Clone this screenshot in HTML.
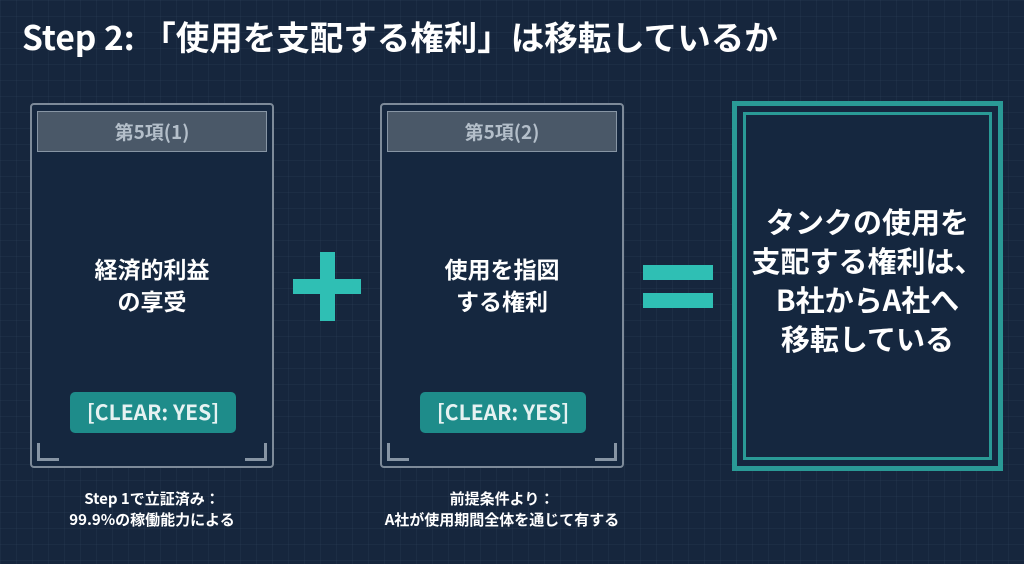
<!DOCTYPE html>
<html><head><meta charset="utf-8"><style>
*{margin:0;padding:0;box-sizing:border-box}
body{width:1024px;height:564px;overflow:hidden;background:#16263d;font-family:"Noto Sans CJK JP","Liberation Sans",sans-serif;color:#fff;position:relative;
background-image:linear-gradient(rgba(120,150,180,0.06) 1px,transparent 1px),linear-gradient(90deg,rgba(120,150,180,0.06) 1px,transparent 1px);background-size:16px 16px}
.abs{position:absolute}
.title{left:22px;top:11px;font-size:33.5px;font-weight:700;white-space:nowrap}
.card{border:2px solid #7d8a99;border-radius:4px;background:#15273f;width:244px;height:365px;top:103px}
.hdr{position:absolute;left:5px;right:5px;top:6px;height:41px;background:#4a5868;border:1px solid #8795a4;color:#b4bfca;font-size:19px;font-weight:700;text-align:center;line-height:39px}
.main{position:absolute;left:0;right:0;top:147px;text-align:center;font-size:23px;font-weight:700;line-height:32px}
.badge{position:absolute;left:38px;width:166px;top:287px;height:41px;background:#1e8c8a;border-radius:5px;color:#e6f2f2;font-size:21px;font-weight:700;text-align:center;line-height:41px}
.br{position:absolute;width:22px;height:18px;bottom:5px;border-bottom:3px solid #8795a4}
.note{font-size:15px;font-weight:700;text-align:center;line-height:21px;width:300px}
.teal{background:#2fbfb4}
</style></head><body>
<div class="abs title">Step 2: 「使用を支配する権利」は移転しているか</div>

<div class="abs card" style="left:30px">
<div class="hdr">第5項(1)</div>
<div class="main">経済的利益<br>の享受</div>
<div class="badge">[CLEAR: YES]</div>
<div class="br" style="left:5px;border-left:3px solid #8795a4"></div>
<div class="br" style="right:5px;border-right:3px solid #8795a4"></div>
</div>
<div class="abs note" style="left:2px;top:488px">Step 1で立証済み：<br>99.9%の稼働能力による</div>

<div class="abs teal" style="left:293px;top:279px;width:68px;height:15px"></div>
<div class="abs teal" style="left:320px;top:252px;width:15px;height:69px"></div>

<div class="abs card" style="left:380px">
<div class="hdr">第5項(2)</div>
<div class="main">使用を指図<br>する権利</div>
<div class="badge">[CLEAR: YES]</div>
<div class="br" style="left:5px;border-left:3px solid #8795a4"></div>
<div class="br" style="right:5px;border-right:3px solid #8795a4"></div>
</div>
<div class="abs note" style="left:352px;top:488px">前提条件より：<br>A社が使用期間全体を通じて有する</div>

<div class="abs teal" style="left:643px;top:265px;width:70px;height:15px"></div>
<div class="abs teal" style="left:643px;top:293px;width:70px;height:15px"></div>

<div class="abs" style="left:732px;top:101px;width:271px;height:370px;border:5px solid #2a9a96;background:#15273f"></div>
<div class="abs" style="left:743px;top:112px;width:249px;height:348px;border:3px solid #2a9a96"></div>
<div class="abs" style="left:732px;top:202px;width:271px;text-align:center;font-size:29px;font-weight:700;line-height:39px">タンクの使用を<br>支配する権利は、<br>B社からA社へ<br>移転している</div>
</body></html>
